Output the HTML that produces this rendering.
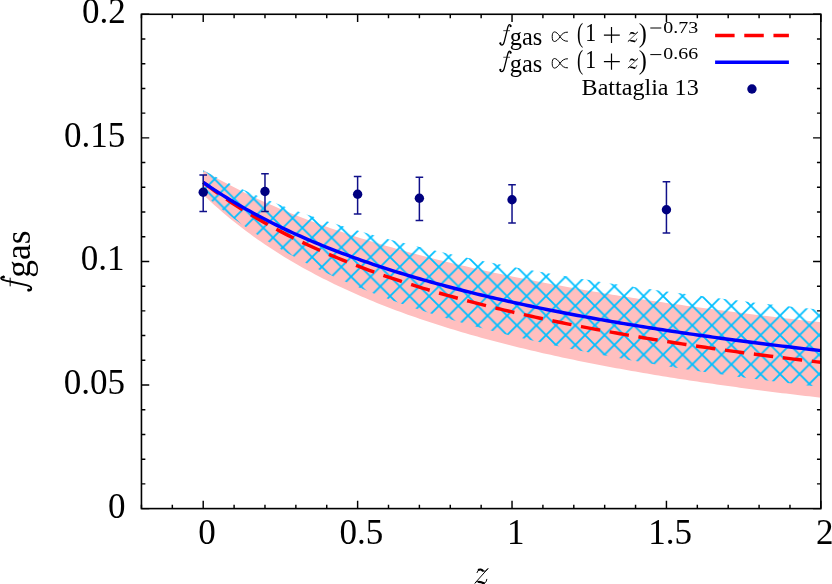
<!DOCTYPE html>
<html><head><meta charset="utf-8"><title>f_gas vs z</title>
<style>html,body{margin:0;padding:0;background:#fff;}body{width:832px;height:584px;overflow:hidden;}svg{display:block;will-change:transform;}text{font-family:"Liberation Serif",serif;fill:#000;}</style></head><body>
<svg width="832" height="584" viewBox="0 0 832 584">
<defs><pattern id="hx" patternUnits="userSpaceOnUse" x="282.84" y="208.38" width="19.50" height="19.50">
<path d="M-1,-1 L20.50,20.50 M-1,20.50 L20.50,-1" stroke="#00bfff" stroke-width="1.80" fill="none"/></pattern>
<clipPath id="plot"><rect x="141.45" y="14.27" width="679.40" height="494.33"/></clipPath></defs>
<rect width="832" height="584" fill="#fff"/>
<path d="M141.45,508.60 v-3.90 M141.45,14.27 v3.90 M172.33,508.60 v-3.90 M172.33,14.27 v3.90 M203.21,508.60 v-7.80 M203.21,14.27 v7.80 M234.10,508.60 v-3.90 M234.10,14.27 v3.90 M264.98,508.60 v-3.90 M264.98,14.27 v3.90 M295.86,508.60 v-3.90 M295.86,14.27 v3.90 M326.74,508.60 v-3.90 M326.74,14.27 v3.90 M357.62,508.60 v-7.80 M357.62,14.27 v7.80 M388.50,508.60 v-3.90 M388.50,14.27 v3.90 M419.39,508.60 v-3.90 M419.39,14.27 v3.90 M450.27,508.60 v-3.90 M450.27,14.27 v3.90 M481.15,508.60 v-3.90 M481.15,14.27 v3.90 M512.03,508.60 v-7.80 M512.03,14.27 v7.80 M542.91,508.60 v-3.90 M542.91,14.27 v3.90 M573.80,508.60 v-3.90 M573.80,14.27 v3.90 M604.68,508.60 v-3.90 M604.68,14.27 v3.90 M635.56,508.60 v-3.90 M635.56,14.27 v3.90 M666.44,508.60 v-7.80 M666.44,14.27 v7.80 M697.32,508.60 v-3.90 M697.32,14.27 v3.90 M728.20,508.60 v-3.90 M728.20,14.27 v3.90 M759.09,508.60 v-3.90 M759.09,14.27 v3.90 M789.97,508.60 v-3.90 M789.97,14.27 v3.90 M820.85,508.60 v-7.80 M820.85,14.27 v7.80 M141.45,508.60 h7.80 M820.85,508.60 h-7.80 M141.45,483.88 h3.90 M820.85,483.88 h-3.90 M141.45,459.17 h3.90 M820.85,459.17 h-3.90 M141.45,434.45 h3.90 M820.85,434.45 h-3.90 M141.45,409.73 h3.90 M820.85,409.73 h-3.90 M141.45,385.02 h7.80 M820.85,385.02 h-7.80 M141.45,360.30 h3.90 M820.85,360.30 h-3.90 M141.45,335.58 h3.90 M820.85,335.58 h-3.90 M141.45,310.87 h3.90 M820.85,310.87 h-3.90 M141.45,286.15 h3.90 M820.85,286.15 h-3.90 M141.45,261.44 h7.80 M820.85,261.44 h-7.80 M141.45,236.72 h3.90 M820.85,236.72 h-3.90 M141.45,212.00 h3.90 M820.85,212.00 h-3.90 M141.45,187.29 h3.90 M820.85,187.29 h-3.90 M141.45,162.57 h3.90 M820.85,162.57 h-3.90 M141.45,137.85 h7.80 M820.85,137.85 h-7.80 M141.45,113.14 h3.90 M820.85,113.14 h-3.90 M141.45,88.42 h3.90 M820.85,88.42 h-3.90 M141.45,63.70 h3.90 M820.85,63.70 h-3.90 M141.45,38.99 h3.90 M820.85,38.99 h-3.90 M141.45,14.27 h7.80 M820.85,14.27 h-7.80" stroke="#000" stroke-width="1.45" fill="none"/>
<g clip-path="url(#plot)">
<path d="M203.21,170.31 L207.07,172.58 L210.93,174.81 L214.79,177.00 L218.65,179.15 L222.51,181.26 L226.37,183.33 L230.24,185.37 L234.10,187.37 L237.96,189.33 L241.82,191.26 L245.68,193.16 L249.54,195.03 L253.40,196.86 L257.26,198.67 L261.12,200.45 L264.98,202.19 L268.84,203.91 L272.70,205.60 L276.56,207.27 L280.42,208.91 L284.28,210.52 L288.14,212.11 L292.00,213.68 L295.86,215.22 L299.72,216.74 L303.58,218.24 L307.44,219.72 L311.30,221.18 L315.16,222.61 L319.02,224.02 L322.88,225.42 L326.74,226.80 L330.60,228.15 L334.46,229.49 L338.32,230.81 L342.18,232.11 L346.04,233.40 L349.90,234.67 L353.76,235.92 L357.62,237.16 L361.48,238.38 L365.34,239.58 L369.20,240.77 L373.06,241.95 L376.92,243.11 L380.78,244.25 L384.64,245.39 L388.50,246.51 L392.36,247.61 L396.22,248.70 L400.09,249.78 L403.95,250.85 L407.81,251.90 L411.67,252.94 L415.53,253.97 L419.39,254.99 L423.25,256.00 L427.11,257.00 L430.97,257.98 L434.83,258.95 L438.69,259.92 L442.55,260.87 L446.41,261.81 L450.27,262.74 L454.13,263.67 L457.99,264.58 L461.85,265.48 L465.71,266.37 L469.57,267.26 L473.43,268.13 L477.29,269.00 L481.15,269.86 L485.01,270.70 L488.87,271.54 L492.73,272.38 L496.59,273.20 L500.45,274.02 L504.31,274.82 L508.17,275.62 L512.03,276.41 L515.89,277.20 L519.75,277.97 L523.61,278.74 L527.47,279.51 L531.33,280.26 L535.19,281.01 L539.05,281.75 L542.91,282.48 L546.77,283.21 L550.63,283.93 L554.49,284.65 L558.35,285.36 L562.21,286.06 L566.08,286.75 L569.94,287.44 L573.80,288.12 L577.66,288.80 L581.52,289.47 L585.38,290.14 L589.24,290.80 L593.10,291.45 L596.96,292.10 L600.82,292.74 L604.68,293.38 L608.54,294.02 L612.40,294.64 L616.26,295.26 L620.12,295.88 L623.98,296.49 L627.84,297.10 L631.70,297.70 L635.56,298.30 L639.42,298.89 L643.28,299.48 L647.14,300.06 L651.00,300.64 L654.86,301.21 L658.72,301.78 L662.58,302.35 L666.44,302.91 L670.30,303.47 L674.16,304.02 L678.02,304.57 L681.88,305.11 L685.74,305.65 L689.60,306.18 L693.46,306.72 L697.32,307.24 L701.18,307.77 L705.04,308.29 L708.90,308.80 L712.76,309.32 L716.62,309.82 L720.48,310.33 L724.34,310.83 L728.20,311.33 L732.06,311.82 L735.92,312.31 L739.79,312.80 L743.65,313.28 L747.51,313.76 L751.37,314.24 L755.23,314.72 L759.09,315.19 L762.95,315.65 L766.81,316.12 L770.67,316.58 L774.53,317.04 L778.39,317.49 L782.25,317.94 L786.11,318.39 L789.97,318.84 L793.83,319.28 L797.69,319.72 L801.55,320.16 L805.41,320.59 L809.27,321.02 L813.13,321.45 L816.99,321.87 L820.85,322.30 L820.85,397.69 L816.99,397.25 L813.13,396.81 L809.27,396.36 L805.41,395.91 L801.55,395.46 L797.69,395.00 L793.83,394.54 L789.97,394.08 L786.11,393.61 L782.25,393.13 L778.39,392.65 L774.53,392.17 L770.67,391.69 L766.81,391.20 L762.95,390.70 L759.09,390.21 L755.23,389.70 L751.37,389.20 L747.51,388.68 L743.65,388.17 L739.79,387.65 L735.92,387.12 L732.06,386.59 L728.20,386.06 L724.34,385.52 L720.48,384.97 L716.62,384.42 L712.76,383.87 L708.90,383.31 L705.04,382.74 L701.18,382.17 L697.32,381.60 L693.46,381.02 L689.60,380.43 L685.74,379.84 L681.88,379.24 L678.02,378.64 L674.16,378.03 L670.30,377.41 L666.44,376.79 L662.58,376.16 L658.72,375.53 L654.86,374.89 L651.00,374.25 L647.14,373.59 L643.28,372.93 L639.42,372.27 L635.56,371.60 L631.70,370.92 L627.84,370.23 L623.98,369.54 L620.12,368.84 L616.26,368.13 L612.40,367.42 L608.54,366.69 L604.68,365.96 L600.82,365.22 L596.96,364.48 L593.10,363.72 L589.24,362.96 L585.38,362.19 L581.52,361.41 L577.66,360.63 L573.80,359.83 L569.94,359.02 L566.08,358.21 L562.21,357.39 L558.35,356.56 L554.49,355.71 L550.63,354.86 L546.77,354.00 L542.91,353.13 L539.05,352.25 L535.19,351.36 L531.33,350.45 L527.47,349.54 L523.61,348.62 L519.75,347.68 L515.89,346.74 L512.03,345.78 L508.17,344.81 L504.31,343.83 L500.45,342.83 L496.59,341.83 L492.73,340.81 L488.87,339.78 L485.01,338.73 L481.15,337.67 L477.29,336.60 L473.43,335.52 L469.57,334.42 L465.71,333.30 L461.85,332.17 L457.99,331.03 L454.13,329.87 L450.27,328.69 L446.41,327.50 L442.55,326.29 L438.69,325.07 L434.83,323.83 L430.97,322.57 L427.11,321.29 L423.25,320.00 L419.39,318.69 L415.53,317.35 L411.67,316.00 L407.81,314.63 L403.95,313.24 L400.09,311.83 L396.22,310.40 L392.36,308.94 L388.50,307.46 L384.64,305.96 L380.78,304.44 L376.92,302.90 L373.06,301.33 L369.20,299.73 L365.34,298.11 L361.48,296.46 L357.62,294.79 L353.76,293.09 L349.90,291.36 L346.04,289.60 L342.18,287.81 L338.32,285.99 L334.46,284.15 L330.60,282.27 L326.74,280.35 L322.88,278.40 L319.02,276.42 L315.16,274.41 L311.30,272.35 L307.44,270.26 L303.58,268.13 L299.72,265.97 L295.86,263.76 L292.00,261.51 L288.14,259.21 L284.28,256.88 L280.42,254.49 L276.56,252.06 L272.70,249.58 L268.84,247.06 L264.98,244.48 L261.12,241.84 L257.26,239.16 L253.40,236.42 L249.54,233.61 L245.68,230.75 L241.82,227.83 L237.96,224.84 L234.10,221.79 L230.24,218.67 L226.37,215.48 L222.51,212.21 L218.65,208.87 L214.79,205.46 L210.93,201.96 L207.07,198.37 L203.21,194.70Z" fill="#ffbfbf"/>
<path d="M203.21,170.31 L207.07,172.33 L210.93,174.32 L214.79,176.28 L218.65,178.20 L222.51,180.09 L226.37,181.94 L230.24,183.76 L234.10,185.56 L237.96,187.32 L241.82,189.05 L245.68,190.76 L249.54,192.43 L253.40,194.08 L257.26,195.71 L261.12,197.30 L264.98,198.88 L268.84,200.43 L272.70,201.95 L276.56,203.46 L280.42,204.94 L284.28,206.40 L288.14,207.83 L292.00,209.25 L295.86,210.65 L299.72,212.02 L303.58,213.38 L307.44,214.72 L311.30,216.04 L315.16,217.34 L319.02,218.63 L322.88,219.89 L326.74,221.15 L330.60,222.38 L334.46,223.60 L338.32,224.80 L342.18,225.99 L346.04,227.16 L349.90,228.31 L353.76,229.46 L357.62,230.59 L361.48,231.70 L365.34,232.80 L369.20,233.89 L373.06,234.96 L376.92,236.02 L380.78,237.07 L384.64,238.11 L388.50,239.14 L392.36,240.15 L396.22,241.15 L400.09,242.14 L403.95,243.12 L407.81,244.09 L411.67,245.04 L415.53,245.99 L419.39,246.93 L423.25,247.85 L427.11,248.77 L430.97,249.68 L434.83,250.57 L438.69,251.46 L442.55,252.34 L446.41,253.21 L450.27,254.07 L454.13,254.92 L457.99,255.76 L461.85,256.59 L465.71,257.42 L469.57,258.24 L473.43,259.05 L477.29,259.85 L481.15,260.64 L485.01,261.43 L488.87,262.21 L492.73,262.98 L496.59,263.74 L500.45,264.50 L504.31,265.24 L508.17,265.99 L512.03,266.72 L515.89,267.45 L519.75,268.17 L523.61,268.89 L527.47,269.60 L531.33,270.30 L535.19,270.99 L539.05,271.68 L542.91,272.37 L546.77,273.04 L550.63,273.72 L554.49,274.38 L558.35,275.04 L562.21,275.70 L566.08,276.35 L569.94,276.99 L573.80,277.63 L577.66,278.26 L581.52,278.89 L585.38,279.51 L589.24,280.12 L593.10,280.74 L596.96,281.34 L600.82,281.95 L604.68,282.54 L608.54,283.13 L612.40,283.72 L616.26,284.31 L620.12,284.88 L623.98,285.46 L627.84,286.03 L631.70,286.59 L635.56,287.15 L639.42,287.71 L643.28,288.26 L647.14,288.81 L651.00,289.35 L654.86,289.89 L658.72,290.43 L662.58,290.96 L666.44,291.48 L670.30,292.01 L674.16,292.53 L678.02,293.04 L681.88,293.55 L685.74,294.06 L689.60,294.57 L693.46,295.07 L697.32,295.57 L701.18,296.06 L705.04,296.55 L708.90,297.04 L712.76,297.52 L716.62,298.00 L720.48,298.48 L724.34,298.95 L728.20,299.42 L732.06,299.89 L735.92,300.35 L739.79,300.81 L743.65,301.27 L747.51,301.73 L751.37,302.18 L755.23,302.63 L759.09,303.07 L762.95,303.51 L766.81,303.95 L770.67,304.39 L774.53,304.83 L778.39,305.26 L782.25,305.68 L786.11,306.11 L789.97,306.53 L793.83,306.95 L797.69,307.37 L801.55,307.79 L805.41,308.20 L809.27,308.61 L813.13,309.02 L816.99,309.42 L820.85,309.82 L820.85,386.99 L816.99,386.55 L813.13,386.11 L809.27,385.66 L805.41,385.21 L801.55,384.75 L797.69,384.29 L793.83,383.83 L789.97,383.37 L786.11,382.90 L782.25,382.42 L778.39,381.95 L774.53,381.47 L770.67,380.98 L766.81,380.49 L762.95,380.00 L759.09,379.50 L755.23,379.00 L751.37,378.50 L747.51,377.99 L743.65,377.47 L739.79,376.95 L735.92,376.43 L732.06,375.90 L728.20,375.37 L724.34,374.84 L720.48,374.29 L716.62,373.75 L712.76,373.20 L708.90,372.64 L705.04,372.08 L701.18,371.52 L697.32,370.95 L693.46,370.37 L689.60,369.79 L685.74,369.20 L681.88,368.61 L678.02,368.01 L674.16,367.41 L670.30,366.80 L666.44,366.19 L662.58,365.57 L658.72,364.95 L654.86,364.31 L651.00,363.68 L647.14,363.03 L643.28,362.38 L639.42,361.73 L635.56,361.07 L631.70,360.40 L627.84,359.72 L623.98,359.04 L620.12,358.35 L616.26,357.66 L612.40,356.95 L608.54,356.24 L604.68,355.53 L600.82,354.80 L596.96,354.07 L593.10,353.33 L589.24,352.59 L585.38,351.83 L581.52,351.07 L577.66,350.30 L573.80,349.52 L569.94,348.73 L566.08,347.94 L562.21,347.13 L558.35,346.32 L554.49,345.50 L550.63,344.67 L546.77,343.83 L542.91,342.98 L539.05,342.12 L535.19,341.25 L531.33,340.37 L527.47,339.49 L523.61,338.59 L519.75,337.68 L515.89,336.76 L512.03,335.83 L508.17,334.89 L504.31,333.94 L500.45,332.98 L496.59,332.00 L492.73,331.02 L488.87,330.02 L485.01,329.01 L481.15,327.98 L477.29,326.95 L473.43,325.90 L469.57,324.84 L465.71,323.76 L461.85,322.68 L457.99,321.57 L454.13,320.46 L450.27,319.33 L446.41,318.18 L442.55,317.02 L438.69,315.84 L434.83,314.65 L430.97,313.44 L427.11,312.22 L423.25,310.98 L419.39,309.72 L415.53,308.45 L411.67,307.15 L407.81,305.84 L403.95,304.51 L400.09,303.16 L396.22,301.80 L392.36,300.41 L388.50,299.00 L384.64,297.57 L380.78,296.12 L376.92,294.65 L373.06,293.16 L369.20,291.64 L365.34,290.10 L361.48,288.54 L357.62,286.95 L353.76,285.34 L349.90,283.70 L346.04,282.04 L342.18,280.35 L338.32,278.63 L334.46,276.89 L330.60,275.11 L326.74,273.31 L322.88,271.47 L319.02,269.61 L315.16,267.71 L311.30,265.78 L307.44,263.81 L303.58,261.82 L299.72,259.78 L295.86,257.71 L292.00,255.60 L288.14,253.46 L284.28,251.27 L280.42,249.04 L276.56,246.77 L272.70,244.46 L268.84,242.11 L264.98,239.70 L261.12,237.25 L257.26,234.76 L253.40,232.21 L249.54,229.61 L245.68,226.95 L241.82,224.25 L237.96,221.48 L234.10,218.66 L230.24,215.77 L226.37,212.83 L222.51,209.82 L218.65,206.74 L214.79,203.59 L210.93,200.37 L207.07,197.08 L203.21,193.71Z" fill="url(#hx)"/>
<path d="M203.21,182.34 L207.07,185.29 L210.93,188.17 L214.79,190.99 L218.65,193.76 L222.51,196.47 L226.37,199.12 L230.24,201.72 L234.10,204.27 L237.96,206.77 L241.82,209.22 L245.68,211.63 L249.54,213.99 L253.40,216.30 L257.26,218.58 L261.12,220.81 L264.98,223.00 L268.84,225.15 L272.70,227.27 L276.56,229.34 L280.42,231.39 L284.28,233.39 L288.14,235.36 L292.00,237.30 L295.86,239.21 L299.72,241.08 L303.58,242.93 L307.44,244.74 L311.30,246.53 L315.16,248.29 L319.02,250.02 L322.88,251.72 L326.74,253.40 L330.60,255.05 L334.46,256.67 L338.32,258.27 L342.18,259.85 L346.04,261.40 L349.90,262.94 L353.76,264.44 L357.62,265.93 L361.48,267.40 L365.34,268.84 L369.20,270.27 L373.06,271.67 L376.92,273.06 L380.78,274.42 L384.64,275.77 L388.50,277.10 L392.36,278.41 L396.22,279.70 L400.09,280.98 L403.95,282.24 L407.81,283.48 L411.67,284.71 L415.53,285.92 L419.39,287.12 L423.25,288.30 L427.11,289.47 L430.97,290.62 L434.83,291.76 L438.69,292.88 L442.55,293.99 L446.41,295.09 L450.27,296.17 L454.13,297.24 L457.99,298.30 L461.85,299.35 L465.71,300.38 L469.57,301.40 L473.43,302.41 L477.29,303.41 L481.15,304.39 L485.01,305.37 L488.87,306.33 L492.73,307.29 L496.59,308.23 L500.45,309.16 L504.31,310.08 L508.17,311.00 L512.03,311.90 L515.89,312.79 L519.75,313.67 L523.61,314.55 L527.47,315.41 L531.33,316.27 L535.19,317.11 L539.05,317.95 L542.91,318.78 L546.77,319.60 L550.63,320.41 L554.49,321.22 L558.35,322.01 L562.21,322.80 L566.08,323.58 L569.94,324.35 L573.80,325.12 L577.66,325.88 L581.52,326.63 L585.38,327.37 L589.24,328.10 L593.10,328.83 L596.96,329.55 L600.82,330.27 L604.68,330.98 L608.54,331.68 L612.40,332.37 L616.26,333.06 L620.12,333.74 L623.98,334.42 L627.84,335.09 L631.70,335.75 L635.56,336.41 L639.42,337.06 L643.28,337.71 L647.14,338.35 L651.00,338.98 L654.86,339.61 L658.72,340.24 L662.58,340.85 L666.44,341.47 L670.30,342.07 L674.16,342.68 L678.02,343.27 L681.88,343.86 L685.74,344.45 L689.60,345.03 L693.46,345.61 L697.32,346.18 L701.18,346.75 L705.04,347.31 L708.90,347.87 L712.76,348.43 L716.62,348.98 L720.48,349.52 L724.34,350.06 L728.20,350.60 L732.06,351.13 L735.92,351.66 L739.79,352.18 L743.65,352.70 L747.51,353.21 L751.37,353.73 L755.23,354.23 L759.09,354.74 L762.95,355.24 L766.81,355.73 L770.67,356.22 L774.53,356.71 L778.39,357.20 L782.25,357.68 L786.11,358.15 L789.97,358.63 L793.83,359.10 L797.69,359.56 L801.55,360.03 L805.41,360.49 L809.27,360.94 L813.13,361.40 L816.99,361.85 L820.85,362.29" fill="none" stroke="#ff0000" stroke-width="3.45" stroke-dasharray="19.5,9.68" stroke-dashoffset="0.6"/>
<path d="M203.21,182.34 L207.07,185.01 L210.93,187.62 L214.79,190.17 L218.65,192.68 L222.51,195.14 L226.37,197.55 L230.24,199.91 L234.10,202.23 L237.96,204.51 L241.82,206.74 L245.68,208.94 L249.54,211.09 L253.40,213.21 L257.26,215.28 L261.12,217.33 L264.98,219.33 L268.84,221.30 L272.70,223.24 L276.56,225.15 L280.42,227.02 L284.28,228.86 L288.14,230.68 L292.00,232.46 L295.86,234.22 L299.72,235.94 L303.58,237.64 L307.44,239.32 L311.30,240.97 L315.16,242.59 L319.02,244.19 L322.88,245.76 L326.74,247.31 L330.60,248.84 L334.46,250.35 L338.32,251.83 L342.18,253.30 L346.04,254.74 L349.90,256.16 L353.76,257.56 L357.62,258.94 L361.48,260.31 L365.34,261.65 L369.20,262.98 L373.06,264.29 L376.92,265.58 L380.78,266.86 L384.64,268.11 L388.50,269.36 L392.36,270.58 L396.22,271.79 L400.09,272.99 L403.95,274.17 L407.81,275.33 L411.67,276.48 L415.53,277.62 L419.39,278.74 L423.25,279.85 L427.11,280.94 L430.97,282.03 L434.83,283.10 L438.69,284.15 L442.55,285.20 L446.41,286.23 L450.27,287.25 L454.13,288.26 L457.99,289.26 L461.85,290.24 L465.71,291.22 L469.57,292.18 L473.43,293.13 L477.29,294.08 L481.15,295.01 L485.01,295.93 L488.87,296.84 L492.73,297.75 L496.59,298.64 L500.45,299.52 L504.31,300.40 L508.17,301.26 L512.03,302.12 L515.89,302.97 L519.75,303.80 L523.61,304.63 L527.47,305.46 L531.33,306.27 L535.19,307.07 L539.05,307.87 L542.91,308.66 L546.77,309.44 L550.63,310.22 L554.49,310.98 L558.35,311.74 L562.21,312.49 L566.08,313.24 L569.94,313.98 L573.80,314.71 L577.66,315.43 L581.52,316.15 L585.38,316.86 L589.24,317.56 L593.10,318.26 L596.96,318.95 L600.82,319.63 L604.68,320.31 L608.54,320.99 L612.40,321.65 L616.26,322.31 L620.12,322.97 L623.98,323.62 L627.84,324.26 L631.70,324.90 L635.56,325.53 L639.42,326.15 L643.28,326.78 L647.14,327.39 L651.00,328.00 L654.86,328.61 L658.72,329.21 L662.58,329.80 L666.44,330.39 L670.30,330.98 L674.16,331.56 L678.02,332.14 L681.88,332.71 L685.74,333.28 L689.60,333.84 L693.46,334.40 L697.32,334.95 L701.18,335.50 L705.04,336.04 L708.90,336.58 L712.76,337.12 L716.62,337.65 L720.48,338.18 L724.34,338.70 L728.20,339.22 L732.06,339.74 L735.92,340.25 L739.79,340.76 L743.65,341.26 L747.51,341.76 L751.37,342.26 L755.23,342.75 L759.09,343.24 L762.95,343.72 L766.81,344.20 L770.67,344.68 L774.53,345.16 L778.39,345.63 L782.25,346.10 L786.11,346.56 L789.97,347.02 L793.83,347.48 L797.69,347.94 L801.55,348.39 L805.41,348.84 L809.27,349.28 L813.13,349.72 L816.99,350.16 L820.85,350.60" fill="none" stroke="#0000ff" stroke-width="3.45"/>
</g>
<path d="M203.21,175.10 V211.40 M199.41,175.10 H207.01 M199.41,211.40 H207.01" stroke="#10108a" stroke-width="1.5" fill="none"/>
<circle cx="203.21" cy="192.30" r="4.7" fill="#000080"/>
<path d="M264.98,173.80 V211.40 M261.18,173.80 H268.78 M261.18,211.40 H268.78" stroke="#10108a" stroke-width="1.5" fill="none"/>
<circle cx="264.98" cy="191.50" r="4.7" fill="#000080"/>
<path d="M357.62,176.50 V214.00 M353.82,176.50 H361.42 M353.82,214.00 H361.42" stroke="#10108a" stroke-width="1.5" fill="none"/>
<circle cx="357.62" cy="194.30" r="4.7" fill="#000080"/>
<path d="M419.39,177.30 V220.40 M415.59,177.30 H423.19 M415.59,220.40 H423.19" stroke="#10108a" stroke-width="1.5" fill="none"/>
<circle cx="419.39" cy="198.30" r="4.7" fill="#000080"/>
<path d="M512.03,184.80 V222.90 M508.23,184.80 H515.83 M508.23,222.90 H515.83" stroke="#10108a" stroke-width="1.5" fill="none"/>
<circle cx="512.03" cy="199.70" r="4.7" fill="#000080"/>
<path d="M666.44,181.80 V232.90 M662.64,181.80 H670.24 M662.64,232.90 H670.24" stroke="#10108a" stroke-width="1.5" fill="none"/>
<circle cx="666.44" cy="209.80" r="4.7" fill="#000080"/>
<rect x="141.45" y="14.27" width="679.40" height="494.33" fill="none" stroke="#000" stroke-width="1.6"/>
<text x="125.6" y="517.60" font-size="35" text-anchor="end">0</text>
<text x="125.0" y="394.02" font-size="35" text-anchor="end">0.05</text>
<text x="124.4" y="270.44" font-size="35" text-anchor="end">0.1</text>
<text x="125.2" y="146.85" font-size="35" text-anchor="end">0.15</text>
<text x="125.7" y="23.27" font-size="35" text-anchor="end">0.2</text>
<text x="207.01" y="543.9" font-size="35" text-anchor="middle">0</text>
<text x="361.42" y="543.9" font-size="35" text-anchor="middle">0.5</text>
<text x="515.83" y="543.9" font-size="35" text-anchor="middle">1</text>
<text x="670.24" y="543.9" font-size="35" text-anchor="middle">1.5</text>
<text x="824.65" y="543.9" font-size="35" text-anchor="middle">2</text>
<path d="M477.02,572.58 Q477.85,569.52 480.20,569.37 T482.96,570.90 M487.79,568.76 L474.81,583.29 Q476.06,581.15 478.82,581.61 T482.96,583.14" fill="none" stroke="#000" stroke-width="0.97" stroke-linecap="round" stroke-linejoin="round"/><path d="M482.68,570.75 Q485.44,572.58 487.79,568.76" fill="none" stroke="#000" stroke-width="0.97" stroke-linecap="round"/><path d="M482.96,583.14 Q485.99,584.21 486.82,579.32" fill="none" stroke="#000" stroke-width="0.97" stroke-linecap="round"/><path d="M478.82,569.83 Q480.75,568.91 482.68,570.59" fill="none" stroke="#000" stroke-width="2.16" stroke-linecap="round"/><path d="M478.82,581.92 Q481.30,581.92 483.78,583.29" fill="none" stroke="#000" stroke-width="2.16" stroke-linecap="round"/>
<g transform="rotate(-90)"><path d="M-276.72,3.40 C-276.88,1.41 -278.16,0.65 -279.12,1.72 C-280.40,3.25 -280.88,6.31 -281.52,9.98 L-285.04,26.20 C-285.68,29.26 -286.80,31.25 -288.40,31.25 C-289.68,31.25 -290.40,30.18 -290.40,28.80" fill="none" stroke="#000" stroke-width="1.85" stroke-linecap="round"/><circle cx="-276.96" cy="3.40" r="1.53" fill="#000"/><circle cx="-290.08" cy="28.65" r="1.53" fill="#000"/><path d="M-286.32,10.16 L-277.68,10.16" stroke="#000" stroke-width="1.00" fill="none"/><text x="-277.8" y="30.4" font-size="35.5">gas</text></g>
<path d="M510.73,26.07 C510.61,24.72 509.62,24.20 508.87,24.92 C507.88,25.96 507.51,28.04 507.01,30.54 L504.28,41.56 C503.79,43.64 502.92,45.00 501.68,45.00 C500.69,45.00 500.13,44.27 500.13,43.33" fill="none" stroke="#000" stroke-width="1.30" stroke-linecap="round"/><circle cx="510.55" cy="26.07" r="1.07" fill="#000"/><circle cx="500.38" cy="43.23" r="1.07" fill="#000"/><path d="M503.29,30.66 L509.99,30.66" stroke="#000" stroke-width="0.70" fill="none"/><text x="509.80" y="44.90" font-size="24.4">gas</text><path d="M567.90,32.19 C564.76,31.90 561.93,33.63 560.05,36.70 C558.17,39.77 556.12,41.50 554.40,41.50 C552.83,41.50 552.20,39.39 552.20,36.70 C552.20,34.01 552.83,31.90 554.40,31.90 C556.12,31.90 558.17,33.63 560.05,36.70 C561.93,39.77 564.76,41.50 567.90,41.21" fill="none" stroke="#000" stroke-width="1.00"/><text transform="translate(577.071,42.007) scale(0.1843,0.2711)" font-size="100">(</text><text transform="translate(585.346,41.400) scale(0.2171,0.2519)" font-size="100">1</text><path d="M603.9,35.05 H619.8 M611.5,27.00 V43.10" stroke="#000" stroke-width="1.2" fill="none"/><path d="M629.56,34.72 Q630.17,32.78 631.93,32.68 T633.99,33.65 M637.59,32.29 L627.91,41.51 Q628.84,40.15 630.90,40.44 T633.99,41.41" fill="none" stroke="#000" stroke-width="0.68" stroke-linecap="round" stroke-linejoin="round"/><path d="M633.78,33.55 Q635.84,34.72 637.59,32.29" fill="none" stroke="#000" stroke-width="0.68" stroke-linecap="round"/><path d="M633.99,41.41 Q636.25,42.09 636.87,38.98" fill="none" stroke="#000" stroke-width="0.68" stroke-linecap="round"/><path d="M630.90,32.97 Q632.34,32.39 633.78,33.45" fill="none" stroke="#000" stroke-width="1.50" stroke-linecap="round"/><path d="M630.90,40.63 Q632.75,40.63 634.60,41.51" fill="none" stroke="#000" stroke-width="1.50" stroke-linecap="round"/><text transform="translate(638.873,42.007) scale(0.2423,0.2711)" font-size="100">)</text><path d="M650.3,28.00 H661.3" stroke="#000" stroke-width="1.0" fill="none"/><text transform="translate(663.300,32.546) scale(0.2000,0.1691)" font-size="100">0.73</text>
<path d="M510.73,52.67 C510.61,51.32 509.62,50.80 508.87,51.52 C507.88,52.56 507.51,54.64 507.01,57.14 L504.28,68.16 C503.79,70.24 502.92,71.60 501.68,71.60 C500.69,71.60 500.13,70.87 500.13,69.93" fill="none" stroke="#000" stroke-width="1.30" stroke-linecap="round"/><circle cx="510.55" cy="52.67" r="1.07" fill="#000"/><circle cx="500.38" cy="69.83" r="1.07" fill="#000"/><path d="M503.29,57.26 L509.99,57.26" stroke="#000" stroke-width="0.70" fill="none"/><text x="509.80" y="71.50" font-size="24.4">gas</text><path d="M567.90,58.79 C564.76,58.50 561.93,60.23 560.05,63.30 C558.17,66.37 556.12,68.10 554.40,68.10 C552.83,68.10 552.20,65.99 552.20,63.30 C552.20,60.61 552.83,58.50 554.40,58.50 C556.12,58.50 558.17,60.23 560.05,63.30 C561.93,66.37 564.76,68.10 567.90,67.81" fill="none" stroke="#000" stroke-width="1.00"/><text transform="translate(577.071,68.607) scale(0.1843,0.2711)" font-size="100">(</text><text transform="translate(585.346,68.000) scale(0.2171,0.2519)" font-size="100">1</text><path d="M603.9,61.65 H619.8 M611.5,53.60 V69.70" stroke="#000" stroke-width="1.2" fill="none"/><path d="M629.56,61.32 Q630.17,59.38 631.93,59.28 T633.99,60.25 M637.59,58.89 L627.91,68.11 Q628.84,66.75 630.90,67.04 T633.99,68.01" fill="none" stroke="#000" stroke-width="0.68" stroke-linecap="round" stroke-linejoin="round"/><path d="M633.78,60.15 Q635.84,61.32 637.59,58.89" fill="none" stroke="#000" stroke-width="0.68" stroke-linecap="round"/><path d="M633.99,68.01 Q636.25,68.69 636.87,65.58" fill="none" stroke="#000" stroke-width="0.68" stroke-linecap="round"/><path d="M630.90,59.57 Q632.34,58.99 633.78,60.05" fill="none" stroke="#000" stroke-width="1.50" stroke-linecap="round"/><path d="M630.90,67.23 Q632.75,67.23 634.60,68.11" fill="none" stroke="#000" stroke-width="1.50" stroke-linecap="round"/><text transform="translate(638.873,68.607) scale(0.2423,0.2711)" font-size="100">)</text><path d="M650.3,54.60 H661.3" stroke="#000" stroke-width="1.0" fill="none"/><text transform="translate(663.305,59.146) scale(0.1988,0.1691)" font-size="100">0.66</text>
<text x="698.7" y="94.7" font-size="24.1" text-anchor="end">Battaglia 13</text>
<path d="M715.1,35.45 H788.9" stroke="#ff0000" stroke-width="3.45" stroke-dasharray="19.5,9.68" fill="none"/>
<path d="M715.1,62.2 H788.9" stroke="#0000ff" stroke-width="3.45" fill="none"/>
<circle cx="751.96" cy="89.05" r="4.7" fill="#000080"/>
</svg></body></html>
